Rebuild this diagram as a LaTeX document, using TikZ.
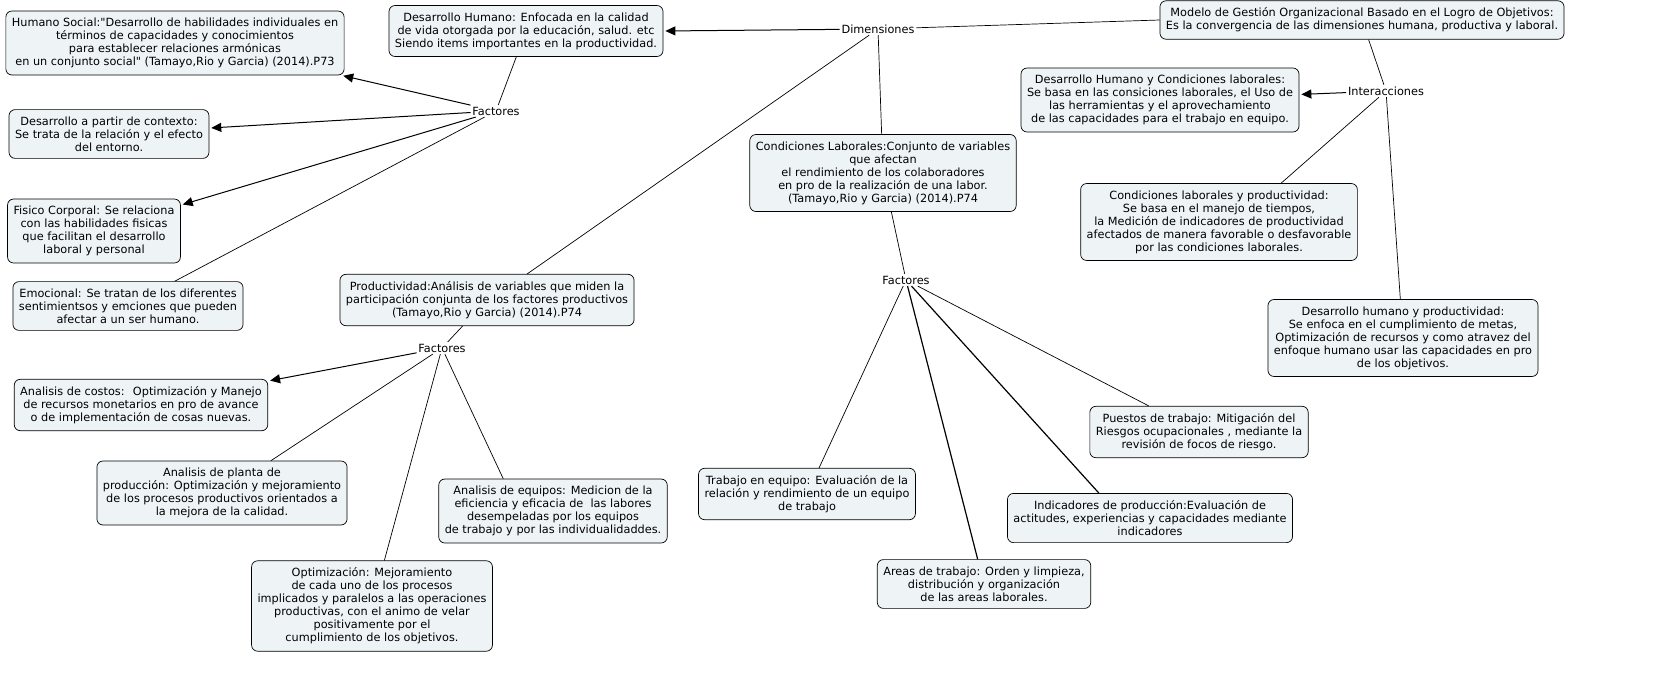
\documentclass[tikz,border=0pt]{standalone}
\usepackage{fontspec}
\setmainfont{DejaVu Sans}
\usetikzlibrary{arrows.meta}
\definecolor{boxfill}{HTML}{EEF4F6}
\tikzset{every path/.style={line width=.7pt},
    box/.style={draw,fill=boxfill,rounded corners=6pt,align=center,inner xsep=6pt,inner ysep=7pt,font=\fontsize{11.3}{13}\selectfont},
    hub/.style={inner sep=1.5pt,font=\fontsize{11.3}{13}\selectfont},
    heavy/.style={line width=1.2pt},
    arr/.style={-{Triangle[length=10pt,width=9pt]},line width=1pt,shorten >=2pt}}

\begin{document}
\begin{tikzpicture}[x=1pt,y=-1pt]
    \useasboundingbox (0,0) rectangle (1665,697);
    \node[box] (mod) at (1362,20) {Modelo de Gestión Organizacional Basado en el Logro de Objetivos:\\Es la convergencia de las dimensiones humana, productiva y laboral.};
    \node[hub] (dim) at (878,29) {Dimensiones};
    \node[hub] (inter) at (1386,91) {Interacciones};
    \node[box] (dh) at (526,31) {Desarrollo Humano: Enfocada en la calidad\\de vida otorgada por la educación, salud. etc\\Siendo items importantes en la productividad.};
    \node[box] (prod) at (487,300) {Productividad:Análisis de variables que miden la\\participación conjunta de los factores productivos\\(Tamayo,Rio y Garcia) (2014).P74};
    \node[box] (cl) at (883,173) {Condiciones Laborales:Conjunto de variables\\que afectan\\el rendimiento de los colaboradores\\en pro de la realización de una labor.\\(Tamayo,Rio y Garcia) (2014).P74};
    \node[hub] (fac1) at (496,111) {Factores};
    \node[hub] (fac2) at (442,348) {Factores};
    \node[hub] (fac3) at (906,280) {Factores};
    \node[box] (hs) at (175,43) {Humano Social:\textquotedbl Desarrollo de habilidades individuales en\\términos de capacidades y conocimientos\\para establecer relaciones armónicas\\en un conjunto social\textquotedbl{} (Tamayo,Rio y Garcia) (2014).P73};
    \node[box] (dpc) at (109,134) {Desarrollo a partir de contexto:\\Se trata de la relación y el efecto\\del entorno.};
    \node[box] (fc) at (94,231) {Fisico Corporal: Se relaciona\\con las habilidades fisicas\\que facilitan el desarrollo\\laboral y personal};
    \node[box] (emo) at (128,306) {Emocional: Se tratan de los diferentes\\sentimientsos y emciones que pueden\\afectar a un ser humano.};
    \node[box] (costos) at (141,405) {Analisis de costos: \ Optimización y Manejo\\de recursos monetarios en pro de avance\\o de implementación de cosas nuevas.};
    \node[box] (planta) at (222,493) {Analisis de planta de\\producción: Optimización y mejoramiento\\de los procesos productivos orientados a\\la mejora de la calidad.};
    \node[box] (equipos) at (553,511) {Analisis de equipos: Medicion de la\\eficiencia y eficacia de \ las labores\\desempeladas por los equipos\\de trabajo y por las individualidaddes.};
    \node[box] (optim) at (372,606) {Optimización: Mejoramiento\\de cada uno de los procesos\\implicados y paralelos a las operaciones\\productivas, con el animo de velar\\positivamente por el\\cumplimiento de los objetivos.};
    \node[box] (te) at (807,494) {Trabajo en equipo: Evaluación de la\\relación y rendimiento de un equipo\\de trabajo};
    \node[box] (at) at (984,584) {Areas de trabajo: Orden y limpieza,\\distribución y organización\\de las areas laborales.};
    \node[box] (ip) at (1150,518) {Indicadores de producción:Evaluación de\\actitudes, experiencias y capacidades mediante\\indicadores};
    \node[box] (pt) at (1199,432) {Puestos de trabajo: Mitigación del\\Riesgos ocupacionales , mediante la\\revisión de focos de riesgo.};
    \node[box] (dhcl) at (1160,100) {Desarrollo Humano y Condiciones laborales:\\Se basa en las consiciones laborales, el Uso de\\las herramientas y el aprovechamiento\\de las capacidades para el trabajo en equipo.};
    \node[box] (clp) at (1219,222) {Condiciones laborales y productividad:\\Se basa en el manejo de tiempos,\\la Medición de indicadores de productividad\\afectados de manera favorable o desfavorable\\por las condiciones laborales.};
    \node[box] (dhp) at (1403,338) {Desarrollo humano y productividad:\\Se enfoca en el cumplimiento de metas,\\Optimización de recursos y como atravez del\\enfoque humano usar las capacidades en pro\\de los objetivos.};
    \draw (mod.west) -- (dim);
    \draw[arr] (dim) -- (dh.east);
    \draw (dim) -- (prod.33);
    \draw (dim) -- (cl);
    \draw (dh) -- (fac1);
    \draw[arr] (fac1) -- (hs.-11);
    \foreach \t in {dpc,fc} \draw[arr] (fac1) -- (\t);
    \draw (fac1) -- (emo);
    \draw (prod) -- (fac2);
    \draw[arr] (fac2) -- (costos);
    \foreach \t in {planta,optim,equipos.147} \draw (fac2) -- (\t);
    \draw (cl) -- (fac3);
    \foreach \t in {te,pt} \draw (fac3) -- (\t);
    \foreach \t in {at,ip.154} \draw[heavy] (fac3) -- (\t);
    \draw (mod) -- (inter);
    \draw[arr] (inter) -- (dhcl);
    \draw (inter) -- (clp.32);
    \draw (inter) -- (dhp);
\end{tikzpicture}
\end{document}
